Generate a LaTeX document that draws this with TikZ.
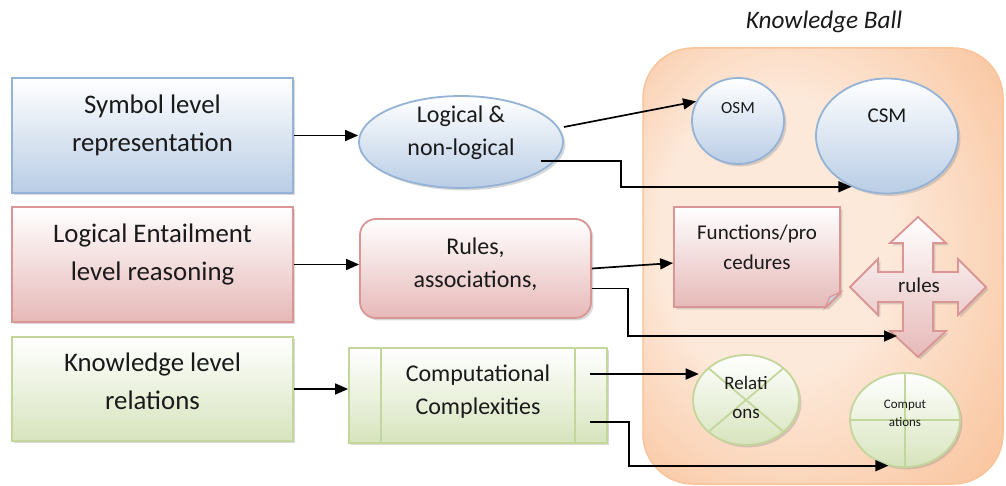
\documentclass[tikz,border=0pt]{standalone}
\usepackage{fontspec}
\setmainfont{Carlito}
\usepackage{tikz}
\usetikzlibrary{arrows.meta,positioning,shapes.geometric,shapes.misc,shadows,calc}

\definecolor{blueline}{HTML}{95B3D7}
\definecolor{bluefill}{HTML}{B9CDE5}
\definecolor{redline}{HTML}{D99694}
\definecolor{redfill}{HTML}{E6B9B8}
\definecolor{greenline}{HTML}{C3D69B}
\definecolor{greenfill}{HTML}{D7E4BD}
\definecolor{ballline}{HTML}{F9C49A}
\definecolor{ballin}{HTML}{FDE9DA}
\definecolor{ballout}{HTML}{F7B07C}
\definecolor{foldcol}{HTML}{C9D4E0}
\definecolor{textcol}{HTML}{1A1A1A}
\pgfdeclareradialshading{ballshade}{\pgfpoint{-10bp}{5bp}}{color(0bp)=(ballin); color(16bp)=(ballin); color(48bp)=(ballout)}

\begin{document}
\begin{tikzpicture}[x=0.5pt, y=-0.5pt, >={Triangle[length=6.5pt, width=5.5pt]},
    conn/.style={->, line width=0.85pt},
    boxshadow/.style={drop shadow={shadow xshift=1.2pt, shadow yshift=-1.2pt, opacity=0.3}},
    bluebox/.style={draw=blueline, line width=0.9pt, top color=white, bottom color=bluefill, boxshadow},
    redbox/.style={draw=redline, line width=0.9pt, top color=white, bottom color=redfill, boxshadow},
    greenbox/.style={draw=greenline, line width=0.9pt, top color=white, bottom color=greenfill, boxshadow},
    procbox/.style={path picture={\draw[greenline, line width=0.9pt]
        ($(path picture bounding box.north west)+(16pt,0)$) -- ($(path picture bounding box.south west)+(16pt,0)$)
        ($(path picture bounding box.north east)+(-16pt,0)$) -- ($(path picture bounding box.south east)+(-16pt,0)$);}},
    xcircle/.style={path picture={\draw[greenline, line width=0.9pt]
        (path picture bounding box.north west) -- (path picture bounding box.south east)
        (path picture bounding box.north east) -- (path picture bounding box.south west);}},
    pluscircle/.style={path picture={\draw[greenline, line width=0.9pt]
        (path picture bounding box.north) -- (path picture bounding box.south)
        (path picture bounding box.west) -- (path picture bounding box.east);}},
    bigtxt/.style={align=center, text=textcol, font=\fontsize{13.4}{19}\selectfont},
    midtxt/.style={align=center, text=textcol, font=\fontsize{12}{16.5}\selectfont},
    smalltxt/.style={align=center, text=textcol, font=\fontsize{10.5}{15}\selectfont},
    tinytxt/.style={align=center, text=textcol, font=\fontsize{6.5}{9}\selectfont}]

  \useasboundingbox (0,0) rectangle (1006,486);

  % knowledge ball
  \node[rectangle, rounded corners=25pt, draw=ballline, line width=0.75pt, shade, shading=ballshade,
        minimum width=180pt, minimum height=218pt] (kb) at (823,266) {};
  \node[font=\fontsize{12.6}{14}\selectfont\itshape, text=textcol] (kbtitle) at (824,22) {Knowledge Ball};

  % left column
  \node[rectangle, bluebox, minimum width=140.5pt, minimum height=57.5pt,
        label={[bigtxt, yshift=5pt]center:{Symbol level\\representation}}] (sym) at (152.5,135.5) {};
  \node[rectangle, redbox, minimum width=140.5pt, minimum height=57.5pt,
        label={[bigtxt, yshift=5pt]center:{Logical Entailment\\level reasoning}}] (ent) at (152.5,264.5) {};
  \node[rectangle, greenbox, minimum width=140.5pt, minimum height=52pt,
        label={[bigtxt, yshift=4pt]center:{Knowledge level\\relations}}] (kn) at (152.5,389) {};

  % middle column
  \node[ellipse, bluebox, minimum width=102pt, minimum height=46pt,
        label={[midtxt, yshift=4.5pt]center:{Logical \&\\non-logical}}] (logic) at (461,142) {};
  \node[rectangle, rounded corners=8pt, redbox, minimum width=115.5pt, minimum height=49.5pt,
        label={[midtxt, yshift=2pt]center:{Rules,\\associations,}}] (assoc) at (475.5,268.5) {};
  \node[rectangle, greenbox, procbox, minimum width=129pt, minimum height=47.5pt,
        label={[midtxt, yshift=2pt]center:{Computational\\Complexities}}] (cmplx) at (478,395.5) {};

  % inside the ball
  \node[ellipse, bluebox, minimum width=46pt, minimum height=43pt,
        label={[font=\fontsize{8.5}{10}\selectfont, text=textcol, yshift=6.5pt]center:OSM}] (osm) at (738,121) {};
  \node[ellipse, bluebox, minimum width=71pt, minimum height=57.5pt,
        label={[smalltxt, yshift=10pt]center:CSM}] (csm) at (887,136) {};
  \node[chamfered rectangle, chamfered rectangle corners=south east, chamfered rectangle sep=8pt,
        redbox, minimum width=83pt, minimum height=50pt,
        label={[smalltxt, yshift=5pt]center:{Functions/pro\\cedures}}] (func) at (757,257) {};
  \coordinate (fold) at (func.east |- func.south);
  \filldraw[fill=foldcol, draw=redline, line width=0.6pt]
    ($(fold)+(0,8pt)$) -- ($(fold)+(-5.5pt,5.5pt)$) -- ($(fold)+(-8pt,0)$) -- cycle;

  \path[draw=redline, line width=0.9pt, top color=white, bottom color=redfill, boxshadow, shift={(918,287)}]
    (0,-70) -- (28,-44) -- (15,-44) -- (15,-15) -- (40,-15) -- (40,-28) -- (68,0) -- (40,28) -- (40,15)
    -- (15,15) -- (15,44) -- (28,44) -- (0,70) -- (-28,44) -- (-15,44) -- (-15,15) -- (-40,15)
    -- (-40,28) -- (-68,0) -- (-40,-28) -- (-40,-15) -- (-15,-15) -- (-15,-44) -- (-28,-44) -- cycle;
  \node[smalltxt] (rules) at (919,285) {rules};
  \coordinate (rulesin) at (897,336);

  \node[ellipse, greenbox, xcircle, minimum width=53pt, minimum height=45pt,
        label={[align=center, text=textcol, font=\fontsize{9.5}{14.5}\selectfont, yshift=1.5pt]center:{Relati\\ons}}] (relat) at (746,400) {};
  \node[ellipse, greenbox, pluscircle, minimum width=55pt, minimum height=47pt,
        label={[tinytxt, yshift=3.5pt]center:{Comput\\ations}}] (comp) at (905,420) {};

  % connectors
  \draw[conn] (sym.east) -- (sym.east -| logic.west);
  \draw[conn] (ent.east) -- (ent.east -| assoc.west);
  \draw[conn] (kn.east) -- (kn.east -| cmplx.west);
  \draw[conn] ([yshift=7.5pt]logic.east) -- (osm.155);
  \draw[conn] ($(logic.center)+(40pt,-9.5pt)$) -- ++(40pt,0) |- (csm.235);
  \draw[conn] (assoc.east) -- ([yshift=-3pt]func.west);
  \draw[conn] ([yshift=-10pt]assoc.east) -- ++(18pt,0) |- (rulesin);
  \coordinate (cmplxa) at ($(cmplx.east)+(-9pt,10.75pt)$);
  \coordinate (cmplxb) at ($(cmplx.east)+(-9pt,-13.25pt)$);
  \draw[conn] (cmplxa) -- (cmplxa -| relat.155);
  \draw[conn] (cmplxb) -- ++(19.5pt,0) |- (comp.250);
\end{tikzpicture}
\end{document}
